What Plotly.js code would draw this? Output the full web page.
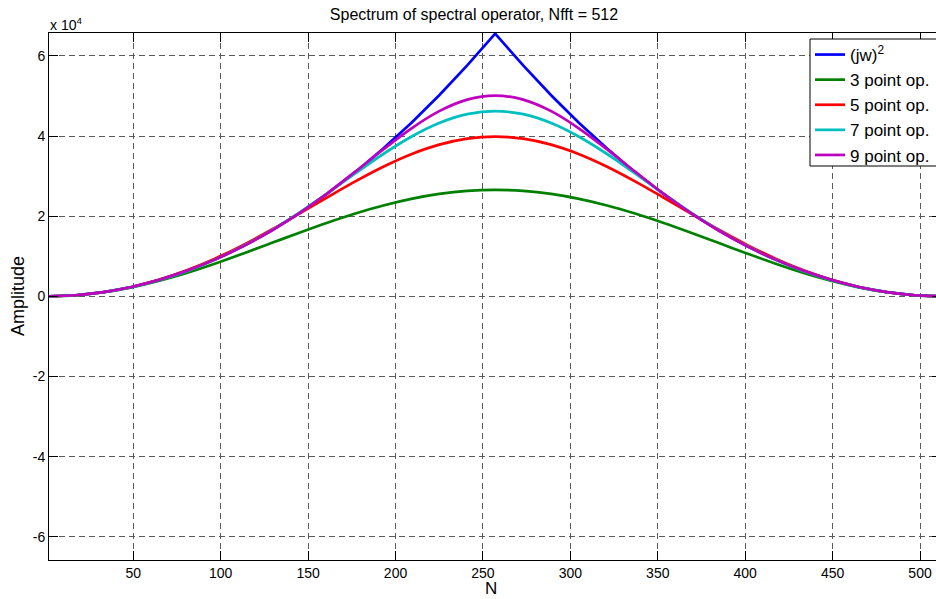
<!DOCTYPE html>
<html>
<head>
<meta charset="utf-8">
<script src="https://cdn.plot.ly/plotly-3.0.1.min.js"></script>
<style>
html,body{margin:0;padding:0;overflow:hidden;background:#fff;}
#chart{width:960px;height:599px;}
</style>
</head>
<body>
<div id="chart"></div>
<script>
// Sample index N (1..512)
const nIndex = [1,17,33,49,65,81,97,113,129,145,161,177,193,209,225,241,257,273,289,305,321,337,353,369,385,401,417,433,449,465,481,497,512];

// (jw)^2
const exactSpec = [0,256,1024,2304,4096,6400,9216,12544,16384,20736,25600,30976,36864,43264,50176,57600,65536,57600,50176,43264,36864,30976,25600,20736,16384,12544,9216,6400,4096,2304,1024,256,1];
// 3 point op.
const op3 = [0,255,1011,2238,3890,5902,8198,10690,13280,15871,18363,20659,22671,24323,25550,26306,26561,26306,25550,24323,22671,20659,18363,15871,13280,10690,8198,5902,3890,2238,1011,255,1];
// 5 point op.
const op5 = [0,256,1030,2332,4175,6558,9463,12841,16600,20613,24710,28692,32346,35459,37839,39332,39841,39332,37839,35459,32346,28692,24710,20613,16600,12841,9463,6558,4175,2332,1030,256,1];
// 7 point op.
const op7 = [0,256,1020,2288,4058,6341,9159,12533,16463,20898,25712,30684,35508,39820,43241,45445,46206,45445,43241,39820,35508,30684,25712,20898,16463,12533,9159,6341,4058,2288,1020,256,1];
// 9 point op.
const op9 = [0,256,1027,2314,4114,6417,9215,12516,16352,20757,25718,31112,36648,41868,46198,49077,50088,49077,46198,41868,36648,31112,25718,20757,16352,12516,9215,6417,4114,2314,1027,256,1];

const seriesNames = ['(jw)<sup>2</sup>','3 point op.','5 point op.','7 point op.','9 point op.'];
const seriesColors = ['#0000ff','#008000','#ff0000','#00bfbf','#bf00bf'];
const seriesValues = [exactSpec, op3, op5, op7, op9];

const xTicks = [50,100,150,200,250,300,350,400,450,500];
const yTickVals = [-60000,-40000,-20000,0,20000,40000,60000];
const yTickText = ['-6','-4','-2','0','2','4','6'];

const FONT = '"Liberation Sans", Arial, Helvetica, sans-serif';

const traces = seriesValues.map((vals, i) => ({
  type: 'scatter',
  mode: 'lines',
  x: nIndex,
  y: vals,
  name: seriesNames[i],
  line: {color: seriesColors[i], width: 2.7, shape: i === 0 ? 'linear' : 'spline', smoothing: 1}
}));

const axisCommon = {
  showline: true,
  linecolor: '#000',
  linewidth: 1,
  mirror: 'ticks',
  ticks: 'inside',
  ticklen: 9,
  tickwidth: 1,
  tickcolor: '#000',
  showgrid: true,
  gridcolor: '#5a5a5a',
  gridwidth: 1,
  griddash: '6px,4px',
  zeroline: false,
  tickfont: {family: FONT, size: 14, color: '#000'}
};

const PW = 892, PH = 527, PL = 49, PT = 33;
const px2x = p => (p - PL) / PW;
const py2y = p => 1 - (p - PT) / PH;

const layout = {
  width: 960,
  height: 599,
  margin: {l: 49, r: 19, t: 33, b: 39},
  paper_bgcolor: '#fff',
  plot_bgcolor: '#fff',
  font: {family: FONT, size: 14, color: '#000'},
  title: {
    text: 'Spectrum of spectral operator, Nfft = 512',
    font: {family: FONT, size: 16, color: '#000'},
    x: px2x(474), xref: 'paper', xanchor: 'center',
    y: 1 - 14/599, yref: 'container', yanchor: 'middle'
  },
  xaxis: Object.assign({}, axisCommon, {
    range: [1.8, 512],
    tickmode: 'array',
    tickvals: xTicks,
    ticktext: xTicks.map(String)
  }),
  yaxis: Object.assign({}, axisCommon, {
    range: [-65800, 65700],
    tickmode: 'array',
    tickvals: yTickVals,
    ticktext: yTickText
  }),
  showlegend: true,
  legend: {
    x: px2x(810), y: py2y(37), xanchor: 'left', yanchor: 'top',
    bgcolor: 'rgba(0,0,0,0)', borderwidth: 0,
    font: {family: FONT, size: 17, color: '#000'},
    itemwidth: 30,
    tracegroupgap: 0
  },
  shapes: [
    {type: 'rect', xref: 'paper', yref: 'paper', layer: 'above',
     x0: px2x(810), x1: px2x(990), y0: py2y(166), y1: py2y(39),
     fillcolor: '#fff', line: {color: '#000', width: 1}}
  ],
  annotations: [
    {text: 'x 10<sup>4</sup>', xref: 'paper', yref: 'paper', x: 0, y: 1,
     xanchor: 'left', yanchor: 'bottom', showarrow: false,
     font: {family: FONT, size: 14, color: '#000'}, xshift: -1, yshift: -2},
    {text: 'Amplitude', xref: 'paper', yref: 'paper', x: px2x(18), y: py2y(296),
     xanchor: 'center', yanchor: 'middle', textangle: -90, showarrow: false,
     font: {family: FONT, size: 18, color: '#000'}},
    {text: 'N', xref: 'paper', yref: 'paper', x: px2x(491), y: py2y(588),
     xanchor: 'center', yanchor: 'middle', showarrow: false,
     font: {family: FONT, size: 17, color: '#000'}}
  ]
};

Plotly.newPlot('chart', traces, layout, {displayModeBar: false, staticPlot: true});
</script>
</body>
</html>
